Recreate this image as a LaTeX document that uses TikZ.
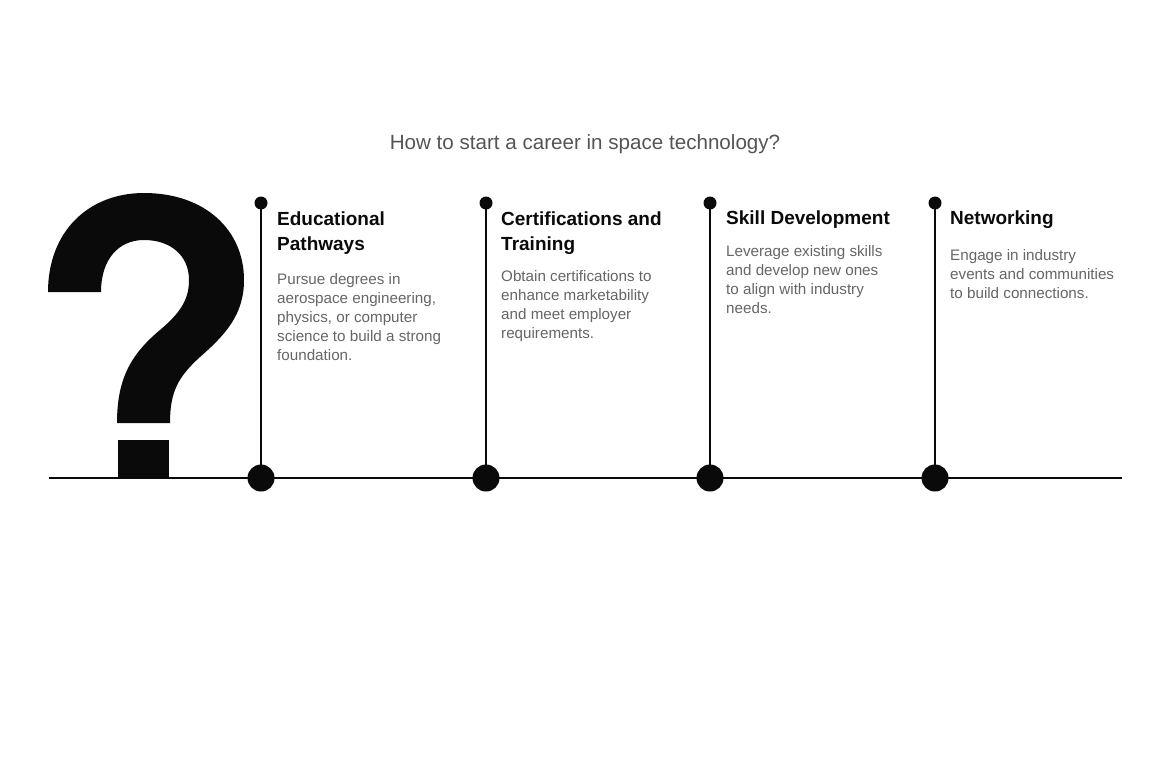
\documentclass[tikz,border=0pt]{standalone}
\usepackage{fontspec}
\setmainfont{Liberation Sans}
\definecolor{headgrey}{HTML}{555555}
\definecolor{descgrey}{HTML}{666666}
\definecolor{inkblack}{HTML}{0A0A0A}
\begin{document}
\begin{tikzpicture}[x=1pt,y=-1pt,
  heading/.style={anchor=base west,inner sep=0,align=left,text=inkblack,
    font=\fontsize{19}{25}\selectfont\bfseries},
  desc/.style={anchor=base west,inner sep=0,align=left,text=descgrey,
    font=\fontsize{15.2}{19}\selectfont},
  stemline/.style={line width=2pt,draw=inkblack},
  bigdot/.style={circle,fill=inkblack,minimum size=27pt,inner sep=0},
  smalldot/.style={circle,fill=inkblack,minimum size=13pt,inner sep=0}]
\useasboundingbox (0,0) rectangle (1170,760);
\fill[white] (0,0) rectangle (1170,760);
% title
\node[anchor=base,inner sep=0,text=headgrey,font=\fontsize{20.6}{24}\selectfont] (title) at (585,149) {How to start a career in space technology?};
% question mark
\fill[inkblack] (48,292) .. controls (48,232) and (88,193) .. (144,193)
  .. controls (205,193) and (244,230) .. (244,280)
  .. controls (244,315) and (225,335) .. (200,357)
  .. controls (178,377) and (170,392) .. (170,423)
  -- (117,423)
  .. controls (117,380) and (130,355) .. (160,330)
  .. controls (180,313) and (189,300) .. (189,280)
  .. controls (189,255) and (170,240) .. (144,240)
  .. controls (118,240) and (101,260) .. (101,292)
  -- cycle;
\fill[inkblack] (118,440) rectangle (169,479);
% timeline
\coordinate (lstart) at (49,478);
\coordinate (lend) at (1122,478);
\draw[stemline] (lstart) -- (lend);
\foreach \n/\x in {a/261,b/486,c/710,d/935}{
  \node[smalldot] (top\n) at (\x,203) {};
  \node[bigdot] (bot\n) at (\x,478) {};
  \draw[stemline] (top\n.center) -- (bot\n.center);
}
% texts (base anchor = baseline of the last line)
\node[heading] (h1) at (277,250) {Educational\\Pathways};
\node[desc] (d1) at (277,360) {Pursue degrees in\\aerospace engineering,\\physics, or computer\\science to build a strong\\foundation.};
\node[heading] (h2) at (501,250) {Certifications and\\Training};
\node[desc] (d2) at (501,338) {Obtain certifications to\\enhance marketability\\and meet employer\\requirements.};
\node[heading] (h3) at (726,224) {Skill Development};
\node[desc] (d3) at (726,313) {Leverage existing skills\\and develop new ones\\to align with industry\\needs.};
\node[heading] (h4) at (950,224) {Networking};
\node[desc] (d4) at (950,298) {Engage in industry\\events and communities\\to build connections.};
\end{tikzpicture}
\end{document}
